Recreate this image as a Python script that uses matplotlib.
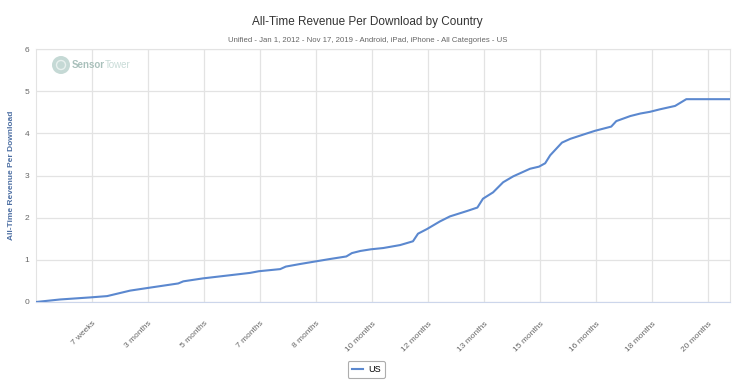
import matplotlib.pyplot as plt
from matplotlib.patches import Ellipse

plt.rcParams['font.family'] = ['Liberation Sans', 'DejaVu Sans']

# positions in tick units (one unit per labelled tick)
x_pos = [0, 0.43, 0.98, 1.27, 1.68, 1.98, 2.54, 2.63, 2.98, 3.82, 3.98, 4.36, 4.46,
         4.71, 4.98, 5.25, 5.54, 5.64, 5.79, 5.98, 6.20, 6.50, 6.73, 6.82, 6.98,
         7.21, 7.39, 7.70, 7.88, 7.98, 8.16, 8.34, 8.52, 8.82, 8.98, 9.09, 9.18,
         9.39, 9.54, 9.77, 9.98, 10.27, 10.36, 10.61, 10.79, 10.96, 11.14, 11.41,
         11.61, 12.39]
us_rpd = [0, 0.06, 0.11, 0.14, 0.27, 0.33, 0.44, 0.49, 0.56, 0.69, 0.73, 0.78, 0.84,
          0.90, 0.96, 1.02, 1.08, 1.16, 1.21, 1.25, 1.28, 1.35, 1.44, 1.62, 1.73,
          1.91, 2.03, 2.16, 2.24, 2.45, 2.60, 2.84, 2.98, 3.16, 3.21, 3.29, 3.48,
          3.78, 3.87, 3.97, 4.06, 4.16, 4.29, 4.41, 4.47, 4.51, 4.57, 4.65,
          4.81, 4.81]
tick_labels = ['7 weeks', '3 months', '5 months', '7 months', '8 months', '10 months',
               '12 months', '13 months', '15 months', '16 months', '18 months', '20 months']
y_ticks = [0, 1, 2, 3, 4, 5, 6]

W, H = 750, 385
fig = plt.figure(figsize=(7.5, 3.85), dpi=100)
ax = fig.add_axes([36 / W, 1 - 302 / H, 694 / W, 253 / H])

ax.plot(x_pos, us_rpd, color='#5b88cf', linewidth=1.5, label='US', zorder=3)

ax.set_xlim(0, 12.39)
ax.set_ylim(0, 6)
ax.set_yticks(y_ticks)
ax.set_xticks(range(1, len(tick_labels) + 1))
ax.set_xticklabels(tick_labels, rotation=45, ha='right', rotation_mode='anchor')
ax.tick_params(axis='x', length=0, labelsize=6, colors='#666666', pad=13)
ax.tick_params(axis='y', length=0, labelsize=6, colors='#666666', pad=5)
ax.grid(True, color='#e3e3e3', linewidth=0.9)
ax.set_axisbelow(True)
for s in ['top', 'right', 'left']:
    ax.spines[s].set_color('#e3e3e3')
ax.spines['bottom'].set_color('#ccd6eb')

ax.set_ylabel('All-Time Revenue Per Download', fontsize=6, fontweight='bold',
              color='#4d6fa3')
ax.yaxis.set_label_coords(-21 / 694, 0.5)

fig.text(0.49, 1 - 22 / H, 'All-Time Revenue Per Download by Country', ha='center',
         va='center', fontsize=8.5, color='#333333')
fig.text(0.49, 1 - 40 / H, 'Unified - Jan 1, 2012 - Nov 17, 2019 - Android, iPad, iPhone - All Categories - US',
         ha='center', va='center', fontsize=5.6, color='#666666')

# watermark
fig.add_artist(Ellipse((61 / W, 1 - 65 / H), 18 / W, 18 / H, transform=fig.transFigure,
                       facecolor='#c5d9d5', edgecolor='none', zorder=5))
fig.add_artist(Ellipse((61 / W, 1 - 65 / H), 9 / W, 9 / H, transform=fig.transFigure,
                       facecolor='none', edgecolor='#e8f0ee', linewidth=1, zorder=6))
t1 = fig.text(72 / W, 1 - 65 / H, 'Sensor', fontsize=7, fontweight='bold',
              color='#a9c0bb', va='center')
fig.canvas.draw()
bb = t1.get_window_extent()
fig.text(bb.x1 / W, 1 - 65 / H, 'Tower', fontsize=7, color='#c8dbd7', va='center')

leg = ax.legend(loc='center', bbox_to_anchor=(330 / 694, -67.5 / 253), fontsize=6.5,
                frameon=True, handlelength=1.3, handletextpad=0.5, borderpad=0.45,
                fancybox=True)
leg.get_frame().set_edgecolor('#999999')
leg.get_frame().set_linewidth(0.8)

fig.savefig('out.png', dpi=100)
